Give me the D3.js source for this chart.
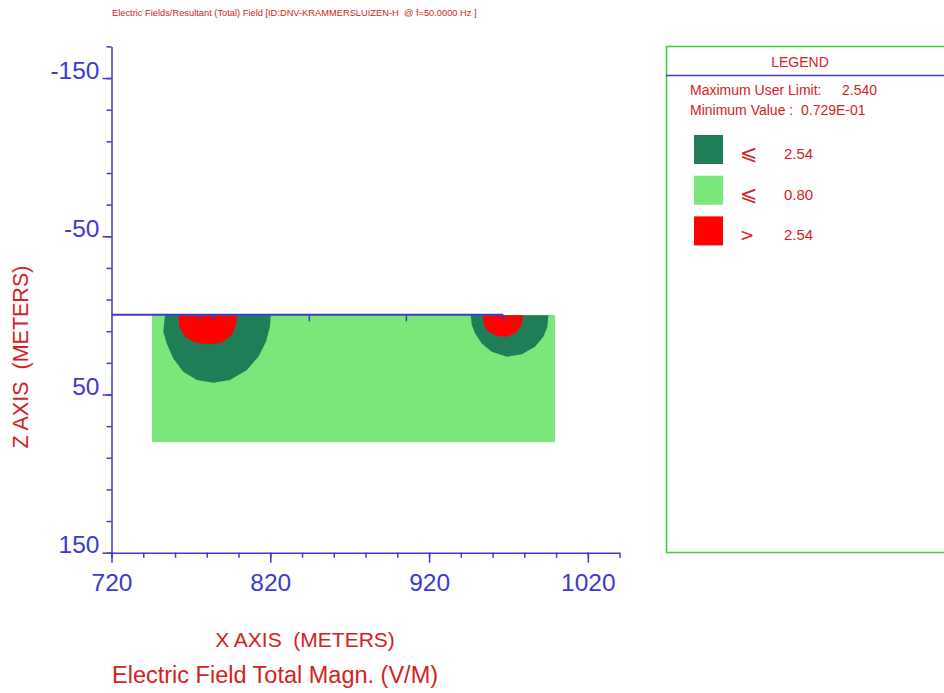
<!DOCTYPE html>
<html>
<head>
<meta charset="utf-8">
<script src="https://cdnjs.cloudflare.com/ajax/libs/d3/7.8.5/d3.min.js"></script>
<style>
  html, body { margin: 0; padding: 0; background: #fff; }
  svg { display: block; font-family: "Liberation Sans", Arial, Helvetica, sans-serif; }
</style>
</head>
<body>
<svg id="chart" width="944" height="693"></svg>
<script>
// ---- axis settings (metres) ----
const xDomain = [720, 1040];
const zDomain = [-170, 150];
const xMajorTicks = [720, 820, 920, 1020];
const xMinorTicks = d3.range(720, 1041, 20);
const zMajorTicks = [-150, -50, 50, 150];
const zMinorTicks = d3.range(-170, 151, 20);

// ---- computation region (x0, x1, z0, z1) ----
const gridX = [745.5, 999.5];
const gridZ = [0, 80];

// ---- ground-surface profile line and its marks ----
const profileX = [720, 966.8];
const profileMarks = [775.6, 783.8, 844.6, 905.7, 966.8];

// ---- field contours, [x, z] in metres ----
// |E| <= 2.54 band around the left conductor group
const leftBand = [[753.7,0],[752.6,10.4],[754.8,17.7],[758.9,27.2],[765.2,35.6],[773.7,40.9],
  [784.1,42.6],[794.6,40.9],[805.2,34.6],[812.5,26.2],[817.3,16.7],[819.8,7.2],[820.3,0]];
// |E| > 2.54 core, left
const leftCore = [[762.1,0],[762.7,7.2],[766.3,13.5],[772.6,17.3],[781.0,18.3],[789.4,17.3],
  [795.7,12.5],[798.4,6.2],[798.9,0]];
// |E| <= 2.54 band around the right conductor group
const rightBand = [[946.2,0],[946.9,6.1],[949.0,11.4],[953.2,17.7],[959.5,23.0],[968.9,26.2],
  [978.4,24.5],[986.7,19.8],[992.0,13.5],[994.5,7.2],[995.1,0]];
// |E| > 2.54 core, right
const rightCore = [[953.8,0],[954.6,6.1],[957.3,10.4],[962.6,13.1],[968.9,13.5],[974.1,11.4],
  [977.7,7.2],[979.4,0]];

// ---- legend ----
const legendColors = ["#1f7e58", "#7be67a", "#ff0000"];
const legendSymbols = ["\u2A7D", "\u2A7D", ">"];
const legendValues = ["2.54", "0.80", "2.54"];
const maxUserLimit = "2.540";
const minValue = "0.729E-01";

const titleText = "Electric Fields/Resultant (Total) Field [ID:DNV-KRAMMERSLUIZEN-H  @ f=50.0000 Hz ]";

const BLUE = "#3b3bcc";
const RED = "#d42222";

const svg = d3.select("#chart");

const x = d3.scaleLinear().domain(xDomain).range([111.5, 619.6]);
const z = d3.scaleLinear().domain(zDomain).range([46.4, 552.7]);
const plain = d => String(d);

// ---- field map ----
const plot = svg.append("g").attr("shape-rendering", "crispEdges");
plot.append("rect")
  .attr("x", x(gridX[0])).attr("y", z(gridZ[0]))
  .attr("width", x(gridX[1]) - x(gridX[0]))
  .attr("height", z(gridZ[1]) - z(gridZ[0]))
  .attr("fill", legendColors[1]);

const area = d3.line().x(d => x(d[0])).y(d => z(d[1]));
[[leftBand, legendColors[0]], [leftCore, legendColors[2]],
 [rightBand, legendColors[0]], [rightCore, legendColors[2]]].forEach(([pts, col]) => {
  svg.append("path").attr("d", area(pts) + "Z").attr("fill", col);
});

// ---- ground profile ----
svg.append("line")
  .attr("x1", x(profileX[0])).attr("x2", x(profileX[1]))
  .attr("y1", z(0) - 0.5).attr("y2", z(0) - 0.5)
  .attr("stroke", BLUE).attr("stroke-width", 2);
svg.selectAll("line.mark").data(profileMarks).join("line")
  .attr("class", "mark")
  .attr("x1", d => x(d)).attr("x2", d => x(d))
  .attr("y1", z(0)).attr("y2", z(0) + 6)
  .attr("stroke", BLUE).attr("stroke-width", 1.5);

// ---- axes ----
function styleAxis(g) {
  g.select(".domain").attr("stroke", BLUE).attr("stroke-width", 1.5);
  g.selectAll(".tick line").attr("stroke", BLUE).attr("stroke-width", 1.5);
  g.selectAll(".tick text").attr("fill", BLUE).attr("font-size", 24.5)
    .attr("font-family", "Liberation Sans, Arial, sans-serif");
}

const xAxisY = z(150);
svg.append("g").attr("transform", `translate(0,${xAxisY})`)
  .call(d3.axisBottom(x).tickValues(xMinorTicks).tickSize(5).tickSizeOuter(0).tickFormat(""))
  .call(styleAxis);
svg.append("g").attr("transform", `translate(0,${xAxisY})`)
  .call(d3.axisBottom(x).tickValues(xMajorTicks).tickSize(10).tickSizeOuter(0).tickFormat(plain))
  .call(styleAxis)
  .call(g => g.select(".domain").remove())
  .call(g => g.selectAll(".tick text").attr("dy", "0.71em").attr("y", 21));

svg.append("g").attr("transform", `translate(${x(720)},0)`)
  .call(d3.axisLeft(z).tickValues(zMinorTicks).tickSize(5).tickSizeOuter(0).tickFormat(""))
  .call(styleAxis);
svg.append("g").attr("transform", `translate(${x(720)},0)`)
  .call(d3.axisLeft(z).tickValues(zMajorTicks).tickSize(9).tickSizeOuter(0).tickFormat(plain))
  .call(styleAxis)
  .call(g => g.select(".domain").remove())
  .call(g => g.selectAll(".tick text").attr("x", -12).attr("dy", "0"));

// ---- titles ----
svg.append("text").attr("x", 112).attr("y", 16)
  .attr("font-size", 9.3).attr("fill", RED).attr("xml:space", "preserve").text(titleText);

svg.append("text").attr("x", 305).attr("y", 647).attr("text-anchor", "middle")
  .attr("font-size", 21).attr("fill", RED).attr("xml:space", "preserve")
  .text("X AXIS  (METERS)");

svg.append("text").attr("x", 112).attr("y", 683)
  .attr("font-size", 23.5).attr("fill", RED)
  .text("Electric Field Total Magn. (V/M)");

svg.append("text")
  .attr("transform", "translate(28,357) rotate(-90)")
  .attr("text-anchor", "middle")
  .attr("font-size", 21.5).attr("fill", RED).attr("xml:space", "preserve")
  .text("Z AXIS  (METERS)");

// ---- legend ----
const lg = svg.append("g");
lg.append("rect").attr("x", 666.5).attr("y", 46.5).attr("width", 300).attr("height", 506)
  .attr("fill", "none").attr("stroke", "#3ccc3c").attr("stroke-width", 1.5);
lg.append("line").attr("x1", 666).attr("x2", 944).attr("y1", 75.5).attr("y2", 75.5)
  .attr("stroke", BLUE).attr("stroke-width", 1.5);
lg.append("text").attr("x", 800).attr("y", 67).attr("text-anchor", "middle")
  .attr("font-size", 14).attr("fill", RED).text("LEGEND");
lg.append("text").attr("x", 690).attr("y", 95).attr("font-size", 14).attr("fill", RED)
  .text("Maximum User Limit:");
lg.append("text").attr("x", 842).attr("y", 95).attr("font-size", 14).attr("fill", RED)
  .text(maxUserLimit);
lg.append("text").attr("x", 690).attr("y", 115).attr("font-size", 14).attr("fill", RED)
  .text("Minimum Value :");
lg.append("text").attr("x", 801).attr("y", 115).attr("font-size", 14).attr("fill", RED)
  .text(minValue);

const rows = lg.selectAll("g.row").data(legendColors.map((c, i) => ({
  color: c, sym: legendSymbols[i], val: legendValues[i]
}))).join("g").attr("class", "row")
  .attr("transform", (d, i) => `translate(0,${135 + i * 40.7})`);
rows.append("rect").attr("x", 694).attr("y", 0).attr("width", 29).attr("height", 29)
  .attr("fill", d => d.color);
rows.append("text").attr("x", 740).attr("y", 25)
  .attr("font-family", "DejaVu Sans, Liberation Sans, sans-serif")
  .attr("font-size", d => d.sym === ">" ? 17 : 21)
  .attr("fill", RED).text(d => d.sym);
rows.append("text").attr("x", 784).attr("y", 24)
  .attr("font-size", 15).attr("fill", RED).text(d => d.val);
</script>
</body>
</html>
